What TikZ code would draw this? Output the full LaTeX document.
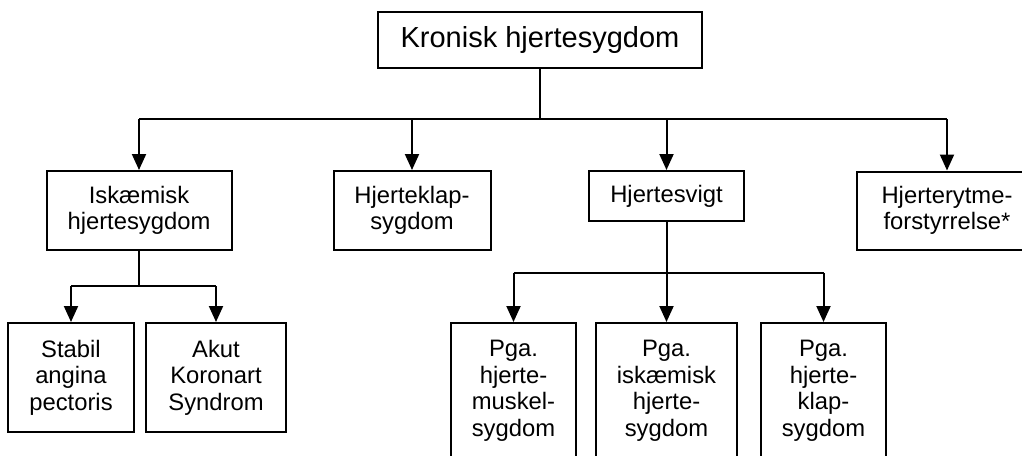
\documentclass[tikz,border=0pt]{standalone}
\usepackage{fontspec}
\setmainfont{Liberation Sans}
\usetikzlibrary{arrows.meta}
\begin{document}
\begin{tikzpicture}[x=1pt,y=-1pt,
  box/.style={draw,line width=2pt,inner sep=0pt,align=center,font=\fontsize{23.8pt}{26.5pt}\selectfont},
  conn/.style={line width=2pt},
  arr/.style={conn,-{Triangle[width=14pt,length=16pt]}}]
\useasboundingbox (0,0) rectangle (1022,455);
\clip (0,0) rectangle (1022,455);
% nodes
\node[box,minimum width=324pt,minimum height=56pt,font=\fontsize{29pt}{33pt}\selectfont] (top) at (540,40) {Kronisk hjertesygdom};
\node[box,minimum width=185pt,minimum height=79pt] (isk) at (139,210.5) {Iskæmisk\\hjertesygdom};
\node[box,minimum width=157pt,minimum height=79pt] (klap) at (412,210.5) {Hjerteklap-\\sygdom};
\node[box,minimum width=155pt,minimum height=50pt] (svigt) at (666.5,196) {Hjertesvigt};
\node[box,minimum width=180pt,minimum height=78pt] (rytme) at (947,210.5) {Hjerterytme-\\forstyrrelse*};
\node[box,minimum width=126pt,minimum height=109pt] (stabil) at (71,377.5) {Stabil\\angina\\pectoris};
\node[box,minimum width=140pt,minimum height=109pt] (akut) at (216,377.5) {Akut\\Koronart\\Syndrom};
\node[box,minimum width=125pt,minimum height=136pt] (pga1) at (513.5,391) {Pga.\\hjerte-\\muskel-\\sygdom};
\node[box,minimum width=141pt,minimum height=136pt] (pga2) at (666.5,391) {Pga.\\iskæmisk\\hjerte-\\sygdom};
\node[box,minimum width=125pt,minimum height=136pt] (pga3) at (823.5,391) {Pga.\\hjerte-\\klap-\\sygdom};
% bus coordinates
\coordinate (bus0) at (540,119);
\coordinate (busL) at (139,119);
\coordinate (busR) at (947,119);
\coordinate (iskbus) at (139,286);
\coordinate (iskL) at (71,286);
\coordinate (iskR) at (216,286);
\coordinate (svbus) at (666.5,273);
\coordinate (svL) at (513.5,273);
\coordinate (svR) at (823.5,273);
% connectors
\draw[conn] (top.south) -- (bus0);
\draw[conn] (busL) -- (busR);
\draw[arr] (busL) -- (isk.north);
\draw[arr] (klap.north |- bus0) -- (klap.north);
\draw[arr] (svigt.north |- bus0) -- (svigt.north);
\draw[arr] (busR) -- (rytme.north);
\draw[conn] (isk.south) -- (iskbus);
\draw[conn] (iskL) -- (iskR);
\draw[arr] (iskL) -- (stabil.north);
\draw[arr] (iskR) -- (akut.north);
\draw[conn] (svigt.south) -- (svbus);
\draw[conn] (svL) -- (svR);
\draw[arr] (svL) -- (pga1.north);
\draw[arr] (svbus) -- (pga2.north);
\draw[arr] (svR) -- (pga3.north);
\end{tikzpicture}
\end{document}
